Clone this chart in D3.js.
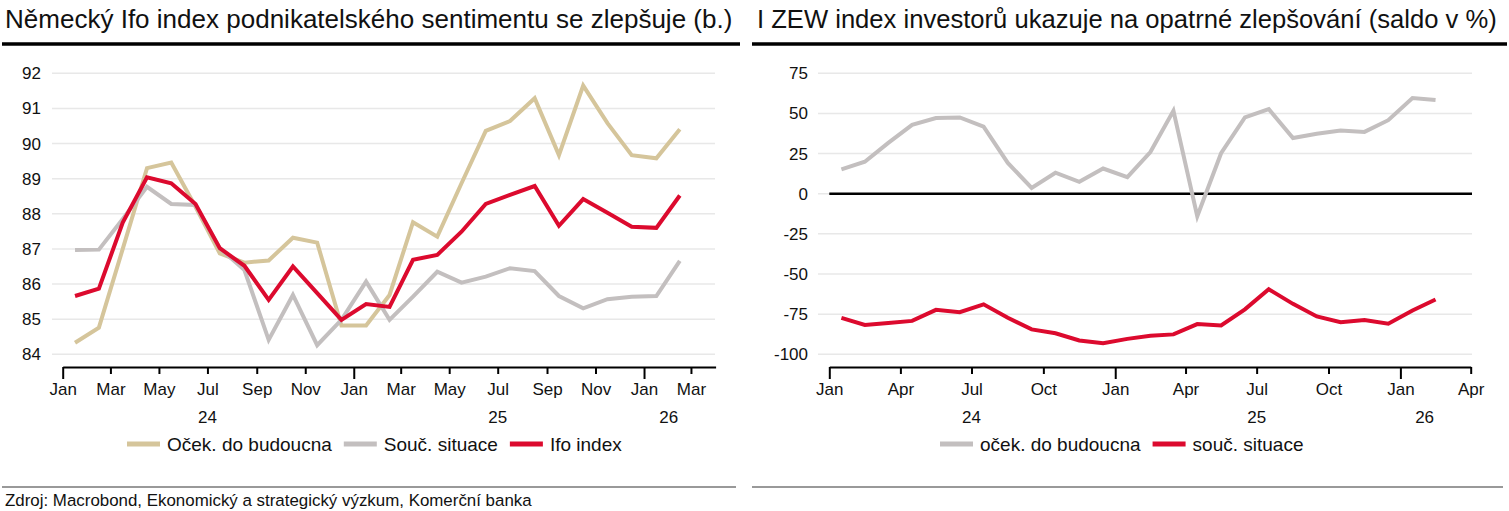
<!DOCTYPE html>
<html>
<head>
<meta charset="utf-8">
<script src="https://cdn.jsdelivr.net/npm/d3@7"></script>
<style>
  body { margin: 0; background: #fff; }
  svg text { font-family: "Liberation Sans", Arial, sans-serif; fill: #111; }
  .domain { stroke: #000; stroke-width: 2px; }
  .tick line { stroke: #000; stroke-width: 2px; }
</style>
</head>
<body>
<div class="chart"></div>
<script>
var width = 1509, height = 511;

// data, monthly Jan 2024 .. Feb 2026
var months = d3.range(26).map(function(i) { return new Date(2024, i, 1); });

var ifoExpect = [84.33, 84.76, 87.0, 89.3, 89.46, 88.2, 86.87, 86.61, 86.67, 87.32, 87.18, 84.82,
                 84.82, 85.69, 87.76, 87.35, 88.87, 90.36, 90.64, 91.29, 89.67, 91.65, 90.58, 89.67, 89.58, 90.41];
var ifoCurrent = [86.97, 86.98, 87.85, 88.77, 88.28, 88.25, 87.02, 86.4, 84.41, 85.69, 84.26, 84.98,
                  86.07, 84.98, 85.64, 86.35, 86.04, 86.21, 86.45, 86.37, 85.66, 85.31, 85.57, 85.64, 85.66, 86.66];
var ifoIndex = [85.66, 85.87, 87.75, 89.04, 88.87, 88.28, 87.02, 86.52, 85.55, 86.5, 85.74, 84.98,
                85.43, 85.35, 86.69, 86.83, 87.49, 88.28, 88.54, 88.79, 87.66, 88.42, 88.03, 87.63, 87.6, 88.52];

var zewExpect = [15.2, 19.9, 31.7, 42.9, 47.1, 47.5, 41.8, 19.2, 3.6, 13.1, 7.4, 15.7,
                 10.3, 26.0, 51.6, -14.0, 25.2, 47.5, 52.7, 34.7, 37.3, 39.3, 38.5, 45.8, 59.6, 58.3];
var zewCurrent = [-77.3, -81.7, -80.5, -79.2, -72.3, -73.8, -68.9, -77.3, -84.5, -86.9, -91.4, -93.1,
                  -90.4, -88.5, -87.6, -81.2, -82.0, -72.0, -59.5, -68.6, -76.4, -80.0, -78.7, -81.0, -72.7, -65.9];

var ifoTicks = [84, 85, 86, 87, 88, 89, 90, 91, 92];
var zewTicks = [-100, -75, -50, -25, 0, 25, 50, 75];
var monthNames = ["Jan", "Feb", "Mar", "Apr", "May", "Jun", "Jul", "Aug", "Sep", "Oct", "Nov", "Dec"];

var colors = {gold: "#d5c59b", gray: "#c3bfbf", red: "#dc0a2e"};

function midMonth(d) {
  var next = new Date(d.getFullYear(), d.getMonth() + 1, 1);
  return new Date((d.getTime() + next.getTime()) / 2);
}

var svg = d3.select("div.chart").append("svg")
    .attr("width", width)
    .attr("height", height);

// scale a text's font so it spans the given width
function fitText(t, base, target) {
  t.style("font-size", base + "px");
  var w = t.node().getComputedTextLength();
  t.style("font-size", (base * target / w) + "px");
}

function panel(opt) {
  var g = svg.append("g");

  var title = g.append("text")
    .attr("x", opt.titleX)
    .attr("y", 28)
    .style("font-weight", "500")
    .text(opt.title);
  fitText(title, 20, opt.titleW);

  g.append("line")
    .attr("x1", opt.ruleX[0]).attr("x2", opt.ruleX[1])
    .attr("y1", 44).attr("y2", 44)
    .attr("stroke", "#000").attr("stroke-width", 3.5);

  g.append("line")
    .attr("x1", opt.ruleX[0]).attr("x2", opt.ruleX[1] - 4)
    .attr("y1", 487).attr("y2", 487)
    .attr("stroke", "#999").attr("stroke-width", 2);

  var x = d3.scaleTime()
    .domain([new Date(2024, 0, 1), new Date(2026, 3, 1)])
    .range(opt.xRange);

  var y = d3.scaleLinear()
    .domain(opt.yDomain)
    .range([354.3, 73.3]);

  // gridlines
  g.append("g").selectAll("line")
    .data(opt.yTicks)
    .enter().append("line")
    .attr("x1", opt.gridX[0]).attr("x2", opt.gridX[1])
    .attr("y1", function(d) { return y(d); })
    .attr("y2", function(d) { return y(d); })
    .attr("stroke", "#e8e8e8")
    .attr("stroke-width", 1.5);

  // y labels
  g.append("g").selectAll("text")
    .data(opt.yTicks)
    .enter().append("text")
    .attr("x", opt.labelX)
    .attr("y", function(d) { return y(d) + 6; })
    .style("text-anchor", "end")
    .style("font-size", "17px")
    .text(function(d) { return d; });

  if (opt.zeroLine) {
    g.append("line")
      .attr("x1", opt.xRange[0]).attr("x2", opt.gridX[1])
      .attr("y1", y(0)).attr("y2", y(0))
      .attr("stroke", "#000").attr("stroke-width", 2.5);
  }

  // x axis
  var axis = d3.axisBottom(x)
    .tickValues(opt.xTicks)
    .tickSize(7)
    .tickSizeOuter(0)
    .tickFormat(function(d) { return monthNames[d.getMonth()]; });

  var ax = g.append("g")
    .attr("transform", "translate(0,367)")
    .call(axis);
  ax.selectAll(".tick line")
    .attr("y2", function(d) { return d.getMonth() == 0 ? 12 : 7; });
  ax.selectAll(".tick text")
    .attr("y", 16)
    .attr("dy", "0.71em")
    .style("font-size", "17px")
    .style("font-family", "Liberation Sans, Arial, sans-serif")
    .attr("fill", "#111");

  g.append("g").selectAll("text")
    .data(opt.years)
    .enter().append("text")
    .attr("x", function(d) { return x(d.at); })
    .attr("y", 423)
    .style("text-anchor", "middle")
    .style("font-size", "17px")
    .text(function(d) { return d.label; });

  // lines
  var line = d3.line()
    .x(function(d) { return x(midMonth(d.date)); })
    .y(function(d) { return y(d.value); });

  opt.series.forEach(function(s) {
    var pts = months.map(function(m, i) { return {date: m, value: s.values[i]}; });
    g.append("path")
      .datum(pts)
      .attr("fill", "none")
      .attr("stroke", s.color)
      .attr("stroke-width", 4)
      .attr("stroke-linejoin", "miter")
      .attr("d", line);
  });

  // legend
  var lg = g.append("g").attr("transform", "translate(0,444)");
  var lx = opt.legendX;
  opt.series.forEach(function(s) {
    lg.append("rect")
      .attr("x", lx).attr("y", -2.5)
      .attr("width", 33).attr("height", 5)
      .attr("fill", s.color);
    var t = lg.append("text")
      .attr("x", lx + 40).attr("y", 7)
      .style("font-size", "19px")
      .text(s.name);
    lx += 40 + t.node().getComputedTextLength() + 12;
  });
}

panel({
  title: "Německý Ifo index podnikatelského sentimentu se zlepšuje (b.)",
  titleX: 5,
  titleW: 728,
  ruleX: [2, 740],
  xRange: [62.7, 715.6],
  gridX: [52, 715],
  labelX: 41,
  yDomain: [84, 92],
  yTicks: ifoTicks,
  xTicks: d3.range(0, 27, 2).map(function(i) { return new Date(2024, i, 1); }),
  years: [{label: "24", at: new Date(2024, 6, 1)}, {label: "25", at: new Date(2025, 6, 1)}, {label: "26", at: new Date(2026, 1, 1)}],
  legendX: 127,
  series: [
    {name: "Oček. do budoucna", values: ifoExpect, color: colors.gold},
    {name: "Souč. situace", values: ifoCurrent, color: colors.gray},
    {name: "Ifo index", values: ifoIndex, color: colors.red}
  ]
});

panel({
  title: "I ZEW index investorů ukazuje na opatrné zlepšování (saldo v %)",
  titleX: 757,
  titleW: 740,
  ruleX: [752, 1507],
  xRange: [829.3, 1470.7],
  gridX: [818, 1472],
  labelX: 808,
  yDomain: [-100, 75],
  yTicks: zewTicks,
  zeroLine: true,
  xTicks: d3.range(0, 28, 3).map(function(i) { return new Date(2024, i, 1); }),
  years: [{label: "24", at: new Date(2024, 6, 1)}, {label: "25", at: new Date(2025, 6, 1)}, {label: "26", at: new Date(2026, 1, 1)}],
  legendX: 940,
  series: [
    {name: "oček. do budoucna", values: zewExpect, color: colors.gray},
    {name: "souč. situace", values: zewCurrent, color: colors.red}
  ]
});

var src = svg.append("text")
  .attr("x", 5)
  .attr("y", 506)
  .text("Zdroj: Macrobond, Ekonomický a strategický výzkum, Komerční banka");
fitText(src, 14, 527);
</script>
</body>
</html>
